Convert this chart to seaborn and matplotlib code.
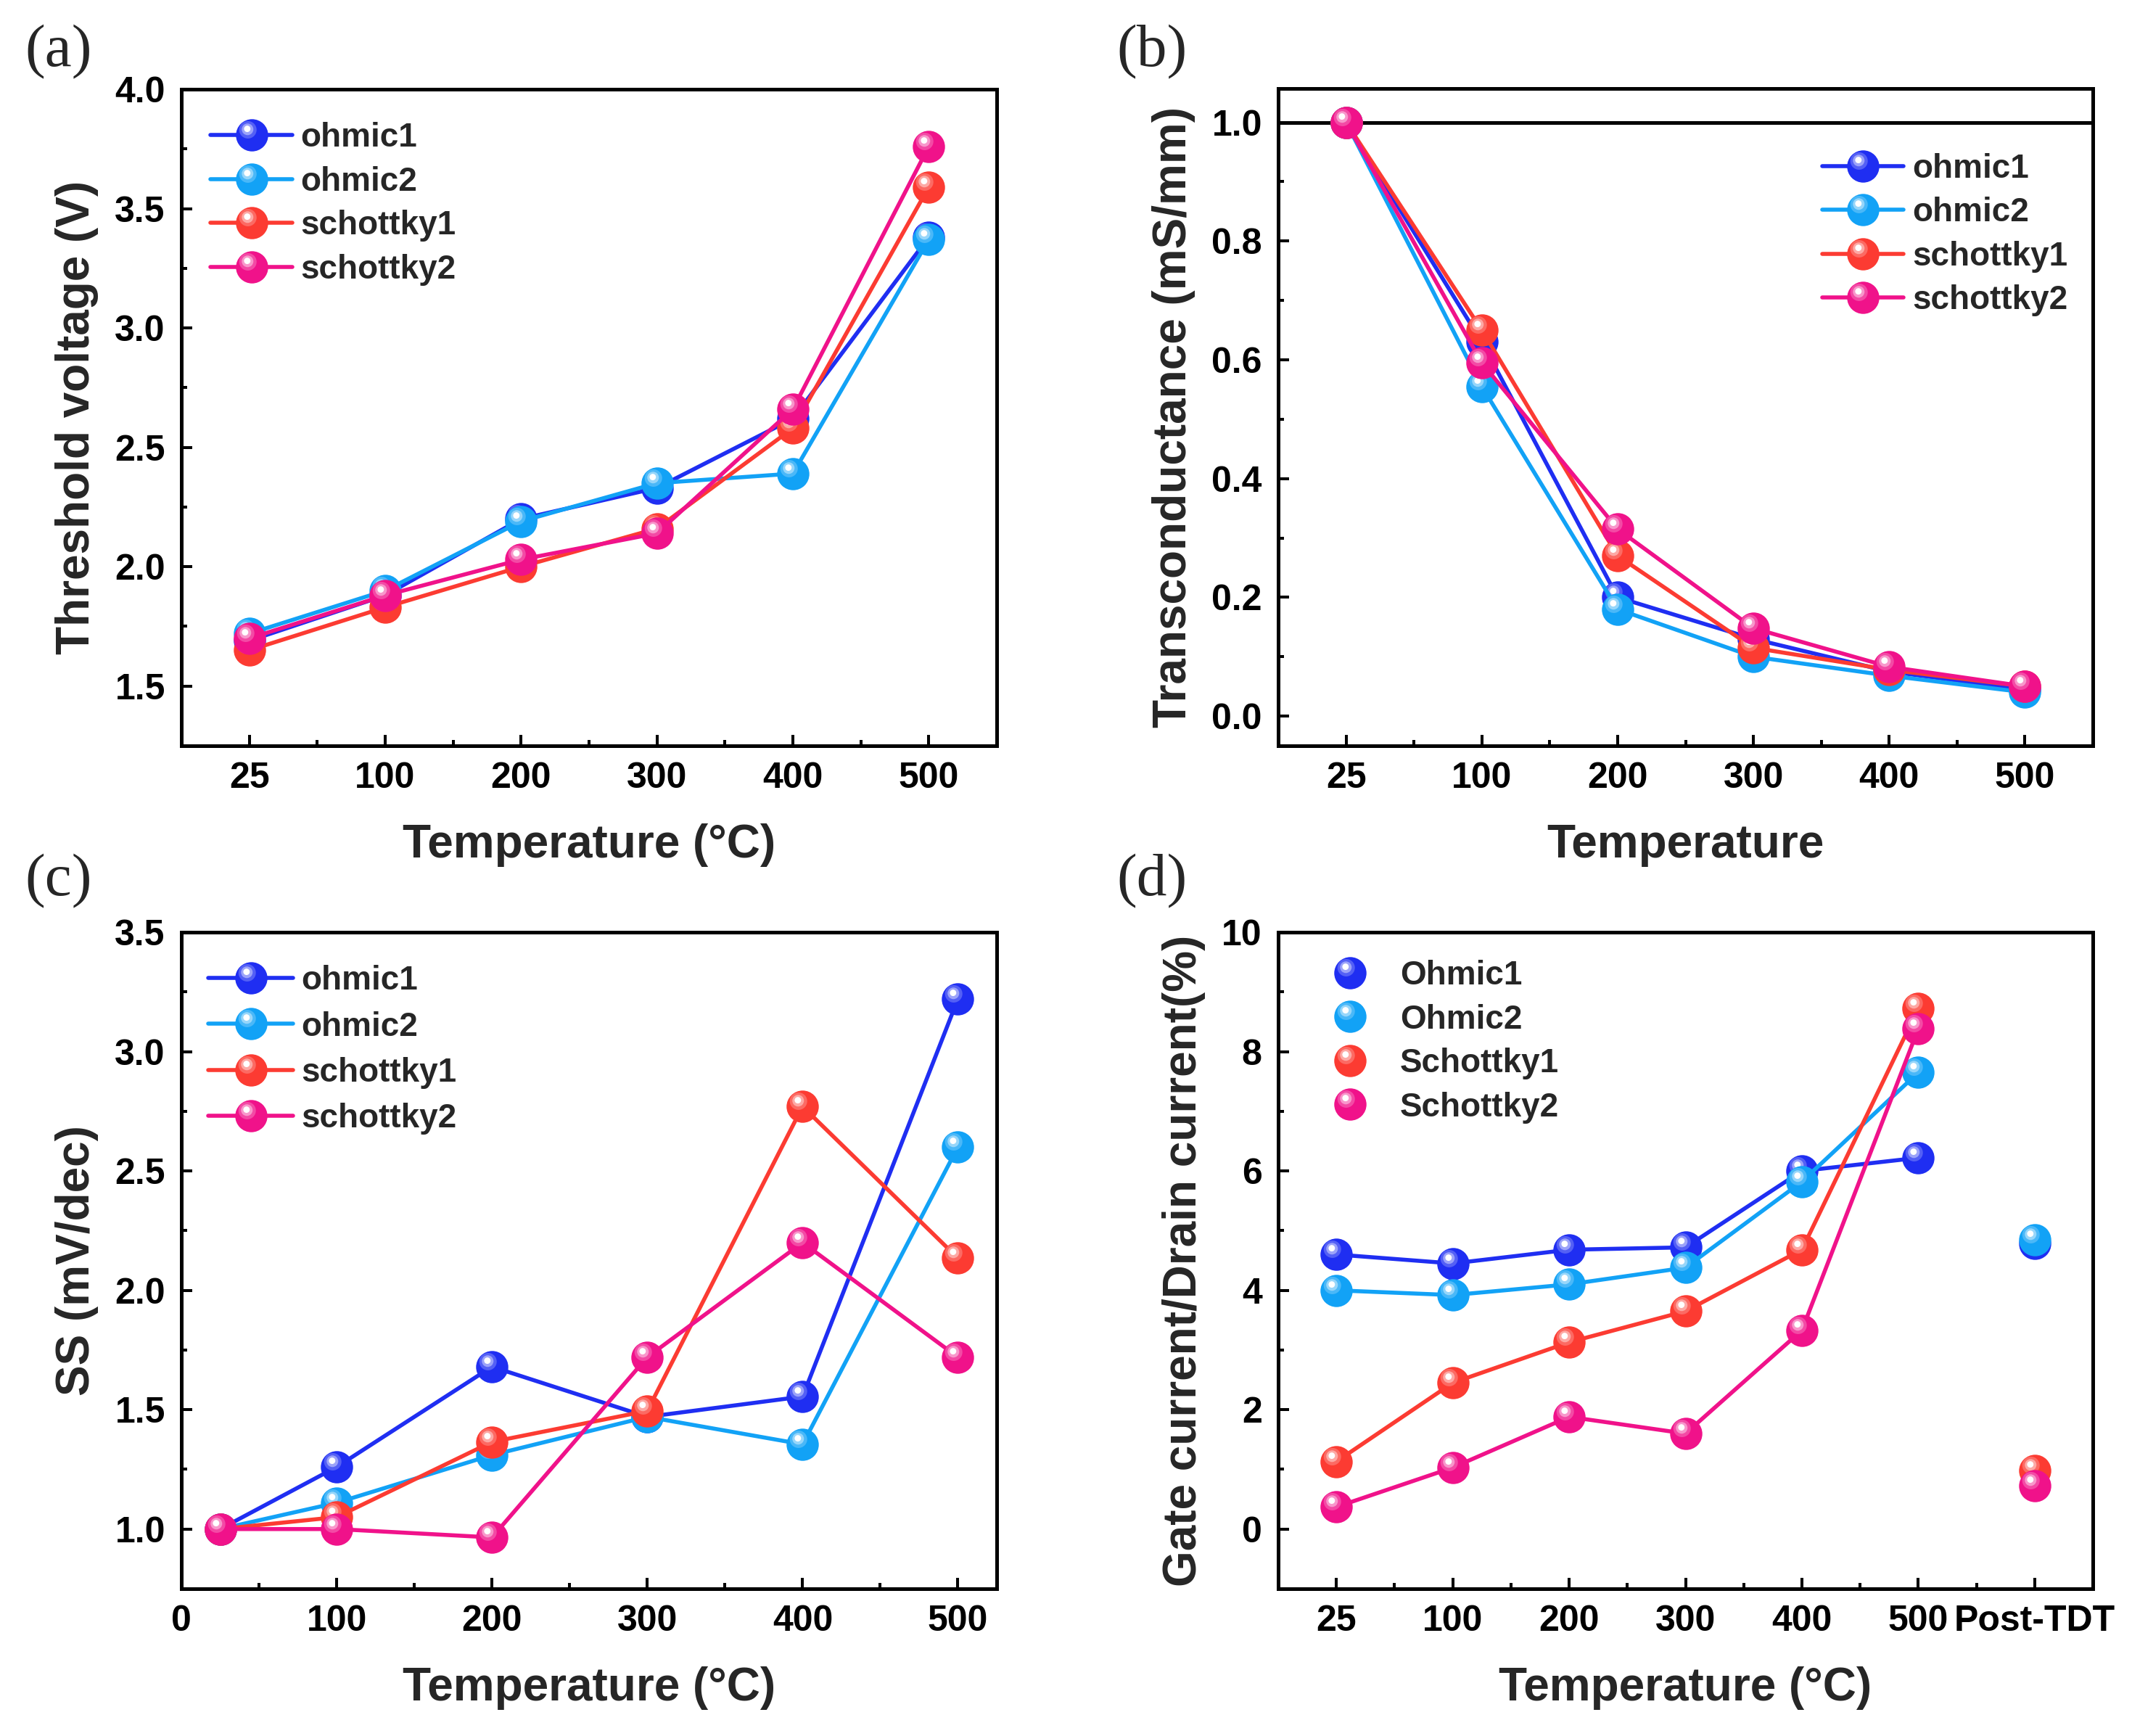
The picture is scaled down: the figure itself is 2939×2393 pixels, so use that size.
import numpy as np
import pandas as pd
import matplotlib
matplotlib.use("Agg")
import matplotlib.pyplot as plt
from matplotlib.path import Path
from matplotlib.lines import Line2D
from matplotlib.legend_handler import HandlerTuple
from matplotlib.ticker import MultipleLocator, FixedLocator
from matplotlib.colors import to_rgb
import seaborn as sns

# ---------------------------------------------------------------------------
# data
# ---------------------------------------------------------------------------
temps = ["25", "100", "200", "300", "400", "500"]
temps_c = [25, 100, 200, 300, 400, 500]
temps_d = ["25", "100", "200", "300", "400", "500", "Post-TDT"]
series = ["ohmic1", "ohmic2", "schottky1", "schottky2"]
series_d = ["Ohmic1", "Ohmic2", "Schottky1", "Schottky2"]
colors = ["#1f2ef2", "#12a2f6", "#fc3b32", "#f0128a"]

# (a) threshold voltage (V)
vth_ohmic1 = [1.69, 1.88, 2.20, 2.33, 2.62, 3.38]
vth_ohmic2 = [1.72, 1.90, 2.19, 2.35, 2.39, 3.37]
vth_schottky1 = [1.65, 1.83, 2.00, 2.16, 2.58, 3.59]
vth_schottky2 = [1.70, 1.88, 2.03, 2.14, 2.66, 3.76]

# (b) normalized transconductance
gm_ohmic1 = [1.0, 0.63, 0.20, 0.13, 0.075, 0.045]
gm_ohmic2 = [1.0, 0.555, 0.18, 0.10, 0.068, 0.040]
gm_schottky1 = [1.0, 0.65, 0.27, 0.115, 0.078, 0.050]
gm_schottky2 = [1.0, 0.595, 0.315, 0.148, 0.083, 0.050]

# (c) subthreshold swing
ss_ohmic1 = [1.0, 1.26, 1.68, 1.47, 1.555, 3.22]
ss_ohmic2 = [1.0, 1.11, 1.31, 1.47, 1.355, 2.60]
ss_schottky1 = [1.0, 1.05, 1.365, 1.495, 2.77, 2.135]
ss_schottky2 = [1.0, 1.0, 0.965, 1.72, 2.20, 1.72]

# (d) gate current / drain current (%), last value = Post-TDT
ig_ohmic1 = [4.60, 4.45, 4.68, 4.72, 6.00, 6.22, 4.78]
ig_ohmic2 = [4.00, 3.92, 4.10, 4.38, 5.82, 7.65, 4.85]
ig_schottky1 = [1.13, 2.45, 3.13, 3.65, 4.68, 8.72, 0.98]
ig_schottky2 = [0.37, 1.03, 1.88, 1.60, 3.33, 8.38, 0.72]


def long_df(x, cols, names):
    rows = []
    for name, vals in zip(names, cols):
        for xi, v in zip(x, vals):
            rows.append({"x": xi, "y": v, "series": name})
    return pd.DataFrame(rows)


df_a = long_df(range(len(temps)), [vth_ohmic1, vth_ohmic2, vth_schottky1, vth_schottky2], series)
df_b = long_df(range(len(temps)), [gm_ohmic1, gm_ohmic2, gm_schottky1, gm_schottky2], series)
df_c = long_df(temps_c, [ss_ohmic1, ss_ohmic2, ss_schottky1, ss_schottky2], series)
df_d = long_df(range(len(temps_d)), [ig_ohmic1, ig_ohmic2, ig_schottky1, ig_schottky2], series_d)

# ---------------------------------------------------------------------------
# style
# ---------------------------------------------------------------------------
sns.set_theme(style="ticks")
plt.rcParams["font.family"] = ["Liberation Sans", "DejaVu Sans"]
plt.rcParams["font.weight"] = "bold"
plt.rcParams["axes.labelweight"] = "bold"

MS = 32
LW = 4.0
SPINE = 3.6
LABEL_FS = 46


def blob(cx, cy, r):
    # offset circle as a marker; the lone moveto pins the marker scale
    anchor = Path([[1.0, 0.0]], [Path.MOVETO])
    return Path.make_compound_path(anchor, Path.circle((cx, cy), r))


# highlight layers for the glossy "ball" markers
SHINE = [
    (blob(-0.26, 0.34, 0.54), 0.30, 0.8),
    (blob(-0.28, 0.37, 0.36), 0.60, 0.9),
    (blob(-0.30, 0.40, 0.20), 1.00, 1.0),
]


def tint(color, f):
    c = np.array(to_rgb(color))
    return tuple(c + (1 - c) * f)


def shine(ax, x, y, color):
    for path, f, a in SHINE:
        ax.plot(x, y, ls="none", marker=path, ms=MS, mfc=tint(color, f),
                mec="none", alpha=a, zorder=3)


def shine_handles(color):
    return [Line2D([], [], ls="none", marker=p, ms=MS, mfc=tint(color, f),
                   mec="none", alpha=a) for p, f, a in SHINE]


def draw_series(ax, df, names, connect=None):
    for name, col in zip(names, colors):
        sub = df[df["series"] == name]
        line = sub if connect is None else sub.iloc[:connect]
        sns.lineplot(data=line, x="x", y="y", color=col, linewidth=LW, marker="o",
                     ms=MS, mew=0, errorbar=None, sort=False, legend=False,
                     ax=ax, zorder=3)
        shine(ax, line["x"], line["y"], col)
        if connect is not None:
            rest = sub.iloc[connect:]
            ax.plot(rest["x"], rest["y"], ls="none", marker="o", ms=MS,
                    mew=0, color=col, zorder=3)
            shine(ax, rest["x"], rest["y"], col)


def style_axes(ax):
    for s in ax.spines.values():
        s.set_linewidth(SPINE)
        s.set_color("black")
        s.set_visible(True)
    ax.tick_params(which="both", direction="in", top=False, right=False,
                   width=2.9, colors="black", labelsize=36, pad=16)
    ax.tick_params(which="major", length=11)
    ax.tick_params(which="minor", length=5.5)
    for lab in ax.get_xticklabels() + ax.get_yticklabels():
        lab.set_fontweight("bold")


def add_legend(ax, names, anchor, lines=True, spacing=0.36, hlen=2.45, tpad=0.25):
    handles = []
    for col in colors:
        base = Line2D([], [], color=col, lw=LW if lines else 0,
                      ls="-" if lines else "none", marker="o", ms=MS, mew=0)
        handles.append(tuple([base] + shine_handles(col)))
    ax.legend(handles, names, loc="upper left", bbox_to_anchor=anchor,
              frameon=False, borderpad=0, borderaxespad=0,
              handler_map={tuple: HandlerTuple(ndivide=1, pad=0)},
              handlelength=hlen, handletextpad=tpad, labelspacing=spacing,
              prop={"family": "Liberation Sans", "weight": "bold", "size": 33})


W, H = 2939, 2393
fig = plt.figure(figsize=(W / 100, H / 100), dpi=100)


def axes_px(x0, y0, x1, y1):
    return fig.add_axes([x0 / W, 1 - y1 / H, (x1 - x0) / W, (y1 - y0) / H])


ax_a = axes_px(250, 123, 1374, 1028)
ax_b = axes_px(1762, 122, 2885, 1028)
ax_c = axes_px(250, 1285, 1374, 2190)
ax_d = axes_px(1762, 1285, 2885, 2190)

# (a)
draw_series(ax_a, df_a, series)
ax_a.set_xlim(-0.5, 5.5)
ax_a.set_ylim(1.25, 4.0)
ax_a.set_xticks(range(len(temps)), temps)
ax_a.xaxis.set_minor_locator(FixedLocator(np.arange(0.5, 5, 1)))
ax_a.yaxis.set_major_locator(MultipleLocator(0.5))
ax_a.yaxis.set_minor_locator(MultipleLocator(0.25))
ax_a.set_xlabel("Temperature (°C)", fontsize=LABEL_FS, labelpad=28)
ax_a.set_ylabel("Threshold voltage (V)", fontsize=LABEL_FS, labelpad=16)
add_legend(ax_a, series, (0.036, 0.950))

# (b)
ax_b.axhline(1.0, color="black", lw=SPINE, zorder=2)
draw_series(ax_b, df_b, series)
ax_b.set_xlim(-0.5, 5.5)
ax_b.set_ylim(-0.05, 1.057)
ax_b.set_xticks(range(len(temps)), temps)
ax_b.xaxis.set_minor_locator(FixedLocator(np.arange(0.5, 5, 1)))
ax_b.yaxis.set_major_locator(MultipleLocator(0.2))
ax_b.yaxis.set_minor_locator(MultipleLocator(0.1))
ax_b.set_xlabel("Temperature", fontsize=LABEL_FS, labelpad=28)
ax_b.set_ylabel("Transconductance (mS/mm)", fontsize=LABEL_FS, labelpad=16)
add_legend(ax_b, series, (0.668, 0.902))

# (c)
draw_series(ax_c, df_c, series)
ax_c.set_xlim(0, 525)
ax_c.set_ylim(0.75, 3.5)
ax_c.xaxis.set_major_locator(MultipleLocator(100))
ax_c.xaxis.set_minor_locator(FixedLocator(np.arange(50, 500, 100)))
ax_c.yaxis.set_major_locator(MultipleLocator(0.5))
ax_c.yaxis.set_minor_locator(FixedLocator(np.arange(1.25, 3.5, 0.5)))
ax_c.set_xlabel("Temperature (°C)", fontsize=LABEL_FS, labelpad=28)
ax_c.set_ylabel("SS (mV/dec)", fontsize=LABEL_FS, labelpad=16)
add_legend(ax_c, series, (0.033, 0.950), spacing=0.42, hlen=2.55)

# (d)
draw_series(ax_d, df_d, series_d, connect=6)
ax_d.set_xlim(-0.5, 6.5)
ax_d.set_ylim(-1, 10)
ax_d.set_xticks(range(len(temps_d)), temps_d)
ax_d.xaxis.set_minor_locator(FixedLocator(np.arange(0.5, 6, 1)))
ax_d.yaxis.set_major_locator(MultipleLocator(2))
ax_d.yaxis.set_minor_locator(FixedLocator(np.arange(1, 10, 2)))
ax_d.set_xlabel("Temperature (°C)", fontsize=LABEL_FS, labelpad=28)
ax_d.set_ylabel("Gate current/Drain current(%)", fontsize=LABEL_FS, labelpad=16)
add_legend(ax_d, series_d, (0.068, 0.958), lines=False, hlen=1.0, tpad=1.0)

for ax in (ax_a, ax_b, ax_c, ax_d):
    style_axes(ax)

serif = ["Liberation Serif", "DejaVu Serif"]
for lab, x, y in [("(a)", 81, 72), ("(b)", 1588, 72), ("(c)", 81, 1215), ("(d)", 1588, 1215)]:
    fig.text(x / W, 1 - y / H, lab, family=serif, weight="normal", fontsize=60,
             ha="center", va="center")

fig.savefig("out.png", dpi=100, facecolor="white")
